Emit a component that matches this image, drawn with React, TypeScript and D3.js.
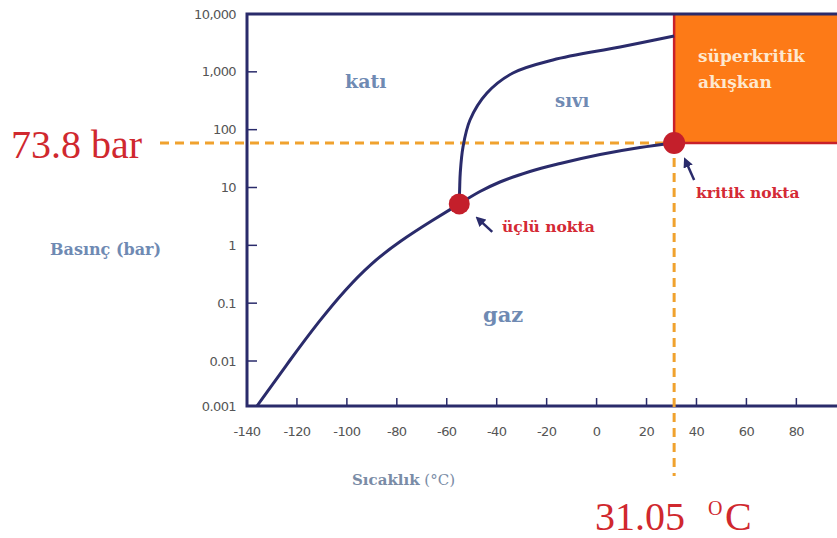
import React from "react";
import * as d3 from "d3";

// ---- data ----
const xTicks = [-140, -120, -100, -80, -60, -40, -20, 0, 20, 40, 60, 80];
const yTicks = [0.001, 0.01, 0.1, 1, 10, 100, 1000, 10000];
const yTickLabels = ["0.001", "0.01", "0.1", "1", "10", "100", "1,000", "10,000"];

// sublimation curve (katı–gaz): [°C, bar]
const sublimationT = [-136, -122.8, -110.8, -100.75, -90.7, -78.7, -65.5, -55];
const sublimationP = [0.001, 0.0104, 0.0512, 0.169, 0.475, 1.19, 2.74, 5.2];
// vaporization curve (sıvı–gaz)
const vaporT = [-55, -46.7, -38.7, -26.7, -14.6, 1.4, 17.4, 31.05];
const vaporP = [5.2, 8.53, 12.45, 18.9, 26.0, 37.2, 49.2, 59];
// melting curve (katı–sıvı)
const meltT = [-55, -54.8, -54.6, -53.5, -50.7, -43.9, -33.5, -17.5, 9.4, 31.05];
const meltP = [5.2, 11.0, 17.8, 50.1, 147, 430, 955, 1603, 2692, 4169];

const triplePoint = { T: -55, P: 5.2 };
const criticalPoint = { T: 31.05, P: 59 };

const W = 837;
const H = 538;

export default function App() {
  const x = d3.scaleLinear().domain([-140, 100]).range([247, 846.3]);
  const y = d3.scaleLog().domain([0.001, 0.01, 10000]).range([406, 361, 14]);

  const lineB = d3
    .line<[number, number]>()
    .x((d) => x(d[0]))
    .y((d) => y(d[1]))
    .curve(d3.curveBasis);
  const lineX = d3
    .line<[number, number]>()
    .x((d) => x(d[0]))
    .y((d) => y(d[1]))
    .curve(d3.curveMonotoneX);
  const lineC = d3
    .line<[number, number]>()
    .x((d) => x(d[0]))
    .y((d) => y(d[1]))
    .curve(d3.curveCatmullRom.alpha(0.5));

  const zip = (a: number[], b: number[]) => a.map((v, i) => [v, b[i]] as [number, number]);

  const navy = "#2a2b6b";
  const dash = "#f0a22e";
  const red = "#c41f2b";
  const labelBlue = "#6f8ab3";
  const serif = "'DejaVu Serif', serif";
  const sans = "'DejaVu Sans', sans-serif";

  const cx = x(criticalPoint.T);
  const cy = y(criticalPoint.P);
  const tx = x(triplePoint.T);
  const ty = y(triplePoint.P);
  const top = y(10000);
  const bottom = y(0.001);
  const left = x(-140);

  return (
    <svg
      width={W}
      height={H}
      style={{ position: "absolute", left: 0, top: 0, background: "#fff" }}
    >
      <defs>
        <marker id="ah" viewBox="0 0 10 10" refX="5" refY="5" markerWidth="4" markerHeight="4" orient="auto-start-reverse">
          <path d="M0,0 L10,5 L0,10 z" fill={navy} />
        </marker>
      </defs>

      {/* supercritical box */}
      <rect x={cx} y={top} width={W - cx + 20} height={cy - top} fill="#fd7a17" />
      <line x1={cx} y1={top} x2={cx} y2={cy} stroke="#c8202a" strokeWidth={2.5} />
      <line x1={cx} y1={cy} x2={W + 10} y2={cy} stroke="#c8202a" strokeWidth={2.5} />
      <text x={698} y={62} fill="#fde8cf" fontFamily={serif} fontWeight="bold" fontSize={17}>süperkritik</text>
      <text x={698} y={88} fill="#fde8cf" fontFamily={serif} fontWeight="bold" fontSize={17}>akışkan</text>

      {/* frame */}
      <path
        d={`M${W + 10},${top} L${left},${top} L${left},${bottom} L${W + 10},${bottom}`}
        fill="none"
        stroke={navy}
        strokeWidth={3}
      />

      {/* y ticks */}
      {yTicks.map((t, i) => (
        <g key={"y" + i}>
          {i > 0 && i < yTicks.length - 1 && (
            <line x1={left} x2={left + 10} y1={y(t)} y2={y(t)} stroke={navy} strokeWidth={1.5} />
          )}
          <text
            x={236}
            y={y(t)}
            dy="0.35em"
            textAnchor="end"
            fontFamily={sans}
            fontSize={13}
            fill="#555"
            letterSpacing={-0.6}
          >
            {yTickLabels[i]}
          </text>
        </g>
      ))}

      {/* x ticks */}
      {xTicks.map((t, i) => (
        <g key={"x" + i}>
          {i > 0 && (
            <line x1={x(t)} x2={x(t)} y1={bottom} y2={bottom - 8} stroke={navy} strokeWidth={1.5} />
          )}
          <text
            x={x(t)}
            y={431}
            dy="0.35em"
            textAnchor="middle"
            fontFamily={sans}
            fontSize={13}
            fill="#555"
            letterSpacing={-0.6}
          >
            {t}
          </text>
        </g>
      ))}

      {/* dashed guides */}
      <line x1={160} x2={cx} y1={cy} y2={cy} stroke={dash} strokeWidth={3} strokeDasharray="9,6" />
      <line x1={cx} x2={cx} y1={cy} y2={476} stroke={dash} strokeWidth={3} strokeDasharray="9,6" />

      {/* phase curves */}
      <path d={lineB(zip(sublimationT, sublimationP)) || ""} fill="none" stroke={navy} strokeWidth={3} />
      <path d={lineX(zip(vaporT, vaporP)) || ""} fill="none" stroke={navy} strokeWidth={3} />
      <path d={lineC(zip(meltT, meltP)) || ""} fill="none" stroke={navy} strokeWidth={3} />

      {/* points */}
      <circle cx={tx} cy={ty} r={10.5} fill={red} />
      <circle cx={cx} cy={cy} r={11} fill={red} />

      {/* arrows */}
      <line x1={tx + 33} y1={ty + 28} x2={tx + 20} y2={ty + 16} stroke={navy} strokeWidth={2.5} markerEnd="url(#ah)" />
      <line x1={cx + 20} y1={cy + 37} x2={cx + 12} y2={cy + 19} stroke={navy} strokeWidth={2.5} markerEnd="url(#ah)" />

      {/* annotations */}
      <text x={502} y={232} fill="#d42a35" fontFamily={serif} fontWeight="bold" fontSize={15.5}>üçlü nokta</text>
      <text x={696} y={198} fill="#d42a35" fontFamily={serif} fontWeight="bold" fontSize={15.5}>kritik nokta</text>

      {/* region labels */}
      <text x={345} y={88} fill={labelBlue} fontFamily={serif} fontWeight="bold" fontSize={19}>katı</text>
      <text x={555} y={107} fill={labelBlue} fontFamily={serif} fontWeight="bold" fontSize={18}>sıvı</text>
      <text x={483} y={322} fill={labelBlue} fontFamily={serif} fontWeight="bold" fontSize={21}>gaz</text>

      {/* axis titles */}
      <text x={50} y={255} fill={labelBlue} fontFamily={serif} fontWeight="bold" fontSize={16}>Basınç (bar)</text>
      <text x={352} y={485} fill="#7a8ca6" fontFamily={serif} fontSize={15}>
        <tspan fontWeight="bold">Sıcaklık</tspan> (°C)
      </text>

      {/* big red labels */}
      <text x={11} y={158} fill="#d0282e" fontFamily="'Liberation Serif', serif" fontSize={40}>73.8 bar</text>
      <text x={595} y={530} fill="#d0282e" fontFamily="'Liberation Serif', serif" fontSize={40}>
        31.05
        <tspan x={708} y={515} fontSize={20}>O</tspan>
        <tspan x={725} y={530} fontSize={40}>C</tspan>
      </text>
    </svg>
  );
}
